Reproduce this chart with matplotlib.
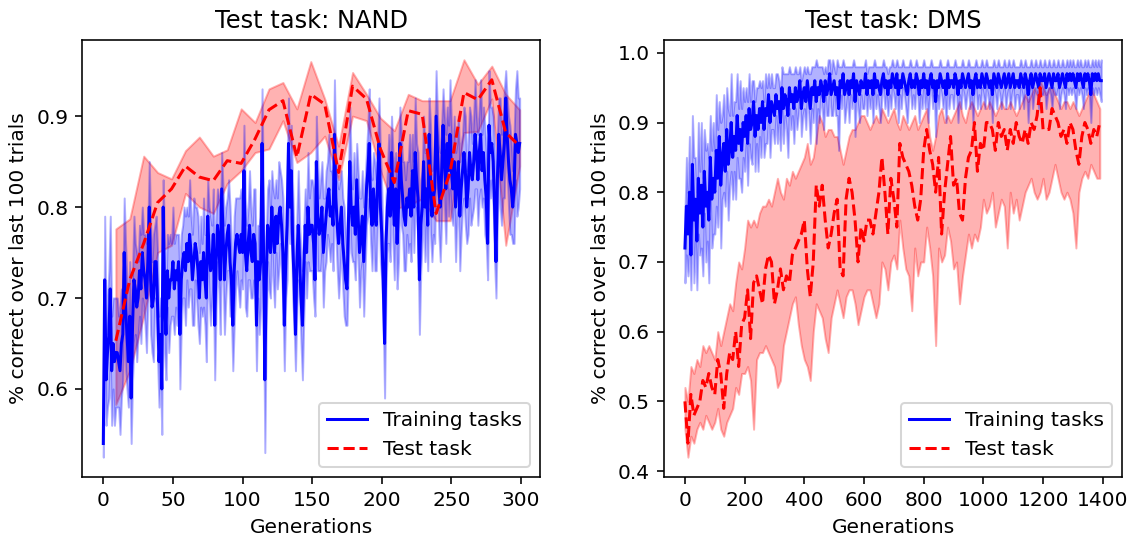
import matplotlib
matplotlib.use("Agg")
import matplotlib.pyplot as plt
import numpy as np

# all values below are in percent correct

# ---- NAND: training tasks, one value per generation (0..299)
nand_train = [
    54, 72, 61, 64, 66, 71, 62, 65, 63, 64,
    64, 63, 62, 65, 66, 75, 69, 66, 63, 68,
    59, 67, 72, 71, 69, 70, 73, 71, 75, 73,
    72, 70, 74, 80, 72, 69, 70, 74, 74, 69,
    63, 66, 60, 80, 70, 66, 73, 70, 72, 72,
    74, 71, 73, 72, 74, 66, 72, 74, 75, 73,
    76, 74, 77, 75, 72, 74, 76, 75, 73, 70,
    74, 72, 75, 72, 70, 79, 75, 73, 74, 77,
    67, 74, 78, 76, 72, 82, 77, 72, 75, 77,
    78, 74, 72, 67, 73, 76, 77, 76, 75, 77,
    75, 84, 75, 73, 76, 78, 75, 74, 77, 76,
    67, 74, 72, 74, 87, 76, 61, 72, 78, 77,
    75, 80, 77, 75, 79, 76, 79, 80, 78, 75,
    67, 74, 78, 87, 80, 84, 76, 72, 66, 74,
    78, 74, 70, 67, 73, 78, 75, 80, 77, 78,
    78, 76, 72, 85, 79, 77, 78, 80, 75, 77,
    79, 81, 82, 79, 80, 78, 88, 81, 78, 76,
    78, 80, 76, 74, 72, 71, 78, 85, 80, 78,
    80, 77, 83, 79, 75, 77, 79, 74, 78, 82,
    84, 87, 80, 78, 82, 79, 78, 83, 87, 80,
    77, 72, 65, 76, 80, 82, 79, 86, 81, 78,
    82, 76, 80, 87, 83, 81, 79, 78, 81, 80,
    82, 79, 84, 80, 86, 83, 81, 72, 78, 80,
    85, 80, 82, 78, 88, 83, 79, 81, 82, 90,
    86, 82, 80, 84, 89, 85, 82, 87, 84, 88,
    84, 82, 85, 80, 83, 85, 79, 82, 84, 86,
    84, 80, 82, 86, 84, 83, 85, 88, 86, 83,
    86, 88, 84, 86, 83, 81, 76, 89, 86, 87,
    85, 80, 74, 83, 88, 86, 83, 85, 87, 92,
    88, 85, 83, 82, 80, 82, 88, 87, 86, 87,
]
nand_train_sd = [
    1.5, 7, 5, 6, 7, 8, 6, 5, 7, 6,
    6, 5, 7, 6, 5, 6, 7, 6, 5, 6,
    5, 6, 7, 5, 6, 4, 5, 6, 5, 4,
    5, 6, 4, 5, 6, 5, 7, 4, 5, 6,
    5, 4, 5, 3, 6, 5, 4, 6, 5, 4,
    6, 5, 4, 5, 3, 6, 5, 4, 5, 6,
    4, 5, 6, 4, 5, 7, 4, 5, 6, 5,
    5, 4, 6, 5, 7, 4, 5, 6, 4, 5,
    6, 5, 4, 5, 6, 4, 5, 6, 5, 4,
    5, 6, 4, 5, 6, 5, 4, 5, 6, 5,
    4, 5, 6, 5, 4, 6, 5, 4, 5, 6,
    5, 4, 6, 5, 6, 5, 8, 5, 4, 6,
    5, 4, 5, 6, 4, 5, 6, 4, 5, 6,
    5, 4, 6, 5, 4, 5, 6, 5, 4, 5,
    6, 4, 5, 6, 5, 4, 5, 6, 4, 5,
    5, 6, 4, 5, 6, 4, 5, 5, 6, 4,
    5, 4, 6, 5, 4, 5, 6, 4, 5, 6,
    5, 4, 5, 6, 5, 4, 5, 6, 5, 4,
    6, 5, 4, 5, 6, 4, 5, 6, 5, 4,
    5, 6, 4, 5, 4, 6, 5, 4, 5, 6,
    5, 4, 6, 5, 4, 6, 5, 4, 5, 6,
    4, 5, 6, 4, 5, 4, 6, 5, 4, 5,
    6, 5, 4, 5, 6, 4, 5, 6, 5, 4,
    5, 6, 4, 5, 4, 6, 5, 4, 6, 5,
    4, 5, 6, 5, 4, 5, 6, 4, 5, 6,
    5, 4, 5, 6, 4, 5, 6, 5, 4, 5,
    6, 4, 5, 5, 6, 4, 5, 6, 4, 5,
    5, 6, 4, 5, 6, 5, 4, 6, 5, 4,
    5, 6, 4, 5, 4, 6, 5, 4, 6, 3,
    4, 5, 6, 5, 4, 6, 5, 8, 6, 5,
]

# ---- NAND: test task, every 10 generations
nand_test_gen = list(range(9, 300, 10))
nand_test = [65.3, 72.0, 76.0, 80.5, 82.0, 84.5, 83.3, 82.9, 85.1, 84.8,
             87.5, 90.7, 91.7, 85.5, 92.4, 91.3, 83.8, 93.3, 91.9, 86.4,
             82.7, 90.6, 90.2, 79.3, 83.8, 92.6, 91.8, 94.0, 88.2, 86.7]
nand_test_hi = [77.6, 78.7, 85.6, 83.8, 83.1, 86.2, 87.7, 85.6, 86.3, 90.8,
                89.3, 93.0, 93.7, 90.8, 96.0, 91.9, 86.7, 94.8, 92.4, 89.8,
                88.4, 92.4, 91.7, 91.7, 91.7, 96.2, 93.5, 95.5, 92.4, 90.7]
nand_test_lo = [58.3, 62.0, 68.0, 75.0, 75.8, 81.5, 80.0, 79.3, 82.6, 84.0,
                86.0, 86.4, 89.5, 84.9, 86.0, 87.8, 83.0, 90.0, 89.5, 84.0,
                79.8, 80.2, 80.9, 78.5, 78.5, 88.2, 88.3, 91.9, 75.8, 84.5]

# ---- DMS: training tasks, every 5 generations
dms_train_gen = list(range(0, 1400, 5))
dms_train = [
    72, 78, 74, 80, 71, 84, 76, 79, 73, 82, 77, 81, 75, 83, 78, 80, 76, 85, 79, 82,
    80, 86, 82, 88, 81, 85, 87, 83, 89, 84, 86, 90, 85, 88, 86, 91, 87, 89, 86, 90,
    88, 91, 87, 92, 89, 90, 93, 88, 91, 89, 92, 90, 93, 89, 92, 91, 94, 90, 93, 92,
    91, 94, 92, 93, 90, 95, 92, 94, 93, 91, 95, 93, 94, 92, 95, 93, 94, 96, 92, 94,
    95, 93, 96, 94, 92, 95, 94, 96, 93, 95, 94, 96, 95, 93, 96, 94, 95, 97, 94, 95,
    96, 94, 95, 92, 96, 95, 97, 94, 95, 96, 94, 96, 95, 97, 93, 96, 95, 94, 96, 95,
    95, 97, 94, 96, 95, 96, 94, 97, 95, 96, 95, 94, 96, 97, 95, 96, 94, 96, 95, 97,
    96, 95, 97, 94, 96, 95, 97, 96, 95, 94, 96, 97, 95, 96, 95, 97, 96, 94, 96, 95,
    97, 95, 96, 94, 96, 97, 95, 96, 93, 96, 95, 97, 96, 95, 96, 94, 97, 95, 96, 96,
    95, 97, 96, 94, 96, 95, 97, 96, 95, 96, 97, 95, 96, 94, 96, 97, 95, 96, 95, 97,
    96, 95, 97, 96, 95, 96, 94, 97, 96, 95, 97, 96, 95, 96, 97, 95, 96, 97, 95, 96,
    97, 95, 96, 96, 95, 97, 96, 95, 97, 96, 94, 96, 97, 95, 96, 97, 96, 95, 97, 96,
    96, 97, 95, 96, 97, 96, 95, 97, 96, 96, 97, 95, 96, 97, 96, 95, 97, 96, 97, 96,
    97, 96, 95, 97, 96, 97, 96, 95, 97, 96, 97, 96, 94, 97, 96, 97, 96, 97, 96, 96,
]
dms_train_sd = [
    5, 7, 6, 8, 5, 7, 9, 6, 7, 8, 6, 9, 7, 6, 8, 7, 9, 6, 7, 8,
    6, 8, 7, 5, 9, 6, 7, 5, 6, 8, 5, 7, 6, 5, 7, 6, 5, 7, 6, 5,
    5, 4, 6, 5, 4, 6, 3, 5, 4, 6, 4, 5, 3, 4, 5, 4, 3, 5, 4, 3,
    4, 3, 5, 3, 4, 3, 5, 3, 4, 6, 3, 4, 3, 5, 3, 4, 3, 2, 4, 3,
    3, 4, 2, 3, 5, 3, 4, 2, 6, 3, 4, 2, 3, 4, 2, 3, 4, 2, 3, 4,
    2, 3, 4, 6, 2, 3, 2, 4, 3, 2, 4, 2, 3, 2, 5, 2, 3, 4, 2, 3,
    3, 2, 3, 2, 3, 2, 4, 2, 3, 2, 3, 4, 2, 2, 3, 2, 3, 2, 3, 2,
    2, 3, 2, 4, 2, 3, 2, 2, 3, 4, 2, 2, 3, 2, 3, 2, 2, 4, 2, 3,
    2, 3, 2, 4, 2, 2, 3, 2, 5, 2, 3, 2, 2, 3, 2, 4, 2, 3, 2, 2,
    3, 2, 2, 4, 2, 3, 2, 2, 3, 2, 2, 3, 2, 4, 2, 2, 3, 2, 3, 2,
    2, 3, 2, 2, 3, 2, 4, 2, 2, 3, 2, 2, 3, 2, 2, 3, 2, 2, 3, 2,
    2, 3, 2, 2, 3, 2, 2, 3, 2, 2, 4, 2, 2, 3, 2, 2, 2, 3, 2, 2,
    2, 2, 3, 2, 2, 2, 3, 2, 2, 2, 2, 3, 2, 2, 2, 3, 2, 2, 2, 2,
    2, 2, 3, 2, 2, 2, 2, 3, 2, 2, 2, 2, 4, 2, 2, 2, 2, 2, 2, 3,
]

# ---- DMS: test task, every 10 generations
dms_test_gen = list(range(0, 1400, 10))
dms_test = [
    50, 44, 51, 48, 49, 50, 53, 52, 54, 52,
    51, 56, 54, 49, 54, 57, 56, 60, 55, 61,
    62, 66, 59, 67, 68, 66, 64, 69, 71, 70,
    64, 66, 69, 66, 68, 67, 71, 72, 73, 74,
    76, 69, 65, 70, 81, 78, 81, 76, 72, 74,
    77, 79, 69, 68, 79, 82, 80, 76, 70, 75,
    73, 76, 76, 74, 77, 80, 85, 80, 74, 82,
    79, 75, 87, 85, 84, 83, 81, 78, 76, 79,
    86, 89, 86, 84, 80, 85, 74, 80, 84, 88,
    81, 82, 77, 76, 82, 85, 86, 90, 83, 87,
    86, 90, 90, 89, 86, 90, 88, 89, 86, 89,
    87, 90, 88, 87, 89, 87, 90, 89, 91, 95,
    89, 89, 89, 92, 91, 90, 88, 89, 87, 90,
    89, 86, 84, 88, 90, 89, 87, 89, 88, 90,
]
dms_test_hi = [
    52, 50, 55, 54, 56, 55, 58, 57, 58, 57,
    56, 60, 58, 60, 62, 64, 63, 67, 70, 69,
    72, 76, 75, 76, 75, 77, 78, 78, 79, 78,
    80, 82, 80, 79, 82, 81, 83, 82, 83, 84,
    85, 87, 84, 85, 88, 91, 90, 88, 89, 89,
    88, 88, 86, 84, 86, 88, 89, 89, 90, 91,
    91, 90, 89, 90, 91, 90, 92, 91, 90, 91,
    92, 90, 89, 91, 90, 89, 90, 91, 89, 90,
    91, 92, 88, 86, 88, 91, 92, 90, 91, 90,
    91, 92, 93, 91, 90, 92, 93, 92, 91, 92,
    93, 92, 93, 92, 91, 92, 93, 92, 92, 93,
    92, 91, 92, 93, 94, 93, 94, 95, 94, 96,
    95, 94, 95, 95, 94, 93, 92, 93, 93, 92,
    93, 92, 91, 92, 93, 94, 95, 94, 93, 92,
]
dms_test_lo = [
    46, 42, 45, 44, 46, 47, 46, 48, 47, 46,
    47, 49, 46, 45, 47, 48, 49, 52, 51, 54,
    54, 55, 53, 46, 56, 57, 57, 58, 57, 56,
    55, 52, 53, 58, 60, 62, 64, 65, 61, 58,
    56, 55, 53, 60, 64, 63, 62, 59, 57, 62,
    64, 66, 64, 62, 65, 66, 66, 64, 61, 63,
    65, 66, 66, 64, 62, 64, 70, 69, 66, 70,
    71, 69, 76, 72, 69, 68, 63, 72, 68, 70,
    70, 75, 72, 68, 58, 72, 70, 71, 75, 73,
    69, 70, 64, 68, 71, 74, 72, 74, 73, 75,
    79, 77, 78, 80, 75, 77, 79, 78, 72, 80,
    77, 79, 76, 78, 80, 81, 82, 80, 79, 80,
    82, 79, 80, 82, 84, 82, 80, 79, 80, 79,
    77, 72, 80, 82, 83, 82, 84, 83, 82, 82,
]


def pct(v):
    return np.array(v, dtype=float) / 100.0


def draw_panel(ax, gen, train, train_sd, tgen, test, test_lo, test_hi, title):
    train = pct(train)
    sd = pct(train_sd)
    ax.fill_between(tgen, pct(test_lo), pct(test_hi), color="r", alpha=0.3)
    ax.fill_between(gen, train - sd, train + sd, color="b", alpha=0.3)
    ax.plot(gen, train, "b-", label="Training tasks")
    ax.plot(tgen, pct(test), "r--", label="Test task")
    ax.set_title(title)
    ax.set_xlabel("Generations")
    ax.set_ylabel("% correct over last 100 trials")
    ax.legend(loc="lower right")


DPI = 145
fig, (ax1, ax2) = plt.subplots(1, 2, figsize=(1130 / DPI, 539 / DPI), dpi=DPI)
plt.subplots_adjust(left=0.073, right=0.993, bottom=0.115, top=0.926, wspace=0.27)

draw_panel(ax1, list(range(300)), nand_train, nand_train_sd,
           nand_test_gen, nand_test, nand_test_lo, nand_test_hi, "Test task: NAND")
draw_panel(ax2, dms_train_gen, dms_train, dms_train_sd,
           dms_test_gen, dms_test, dms_test_lo, dms_test_hi, "Test task: DMS")
ax2.set_xticks(range(0, 1401, 200))

fig.savefig("out.png", dpi=DPI)
